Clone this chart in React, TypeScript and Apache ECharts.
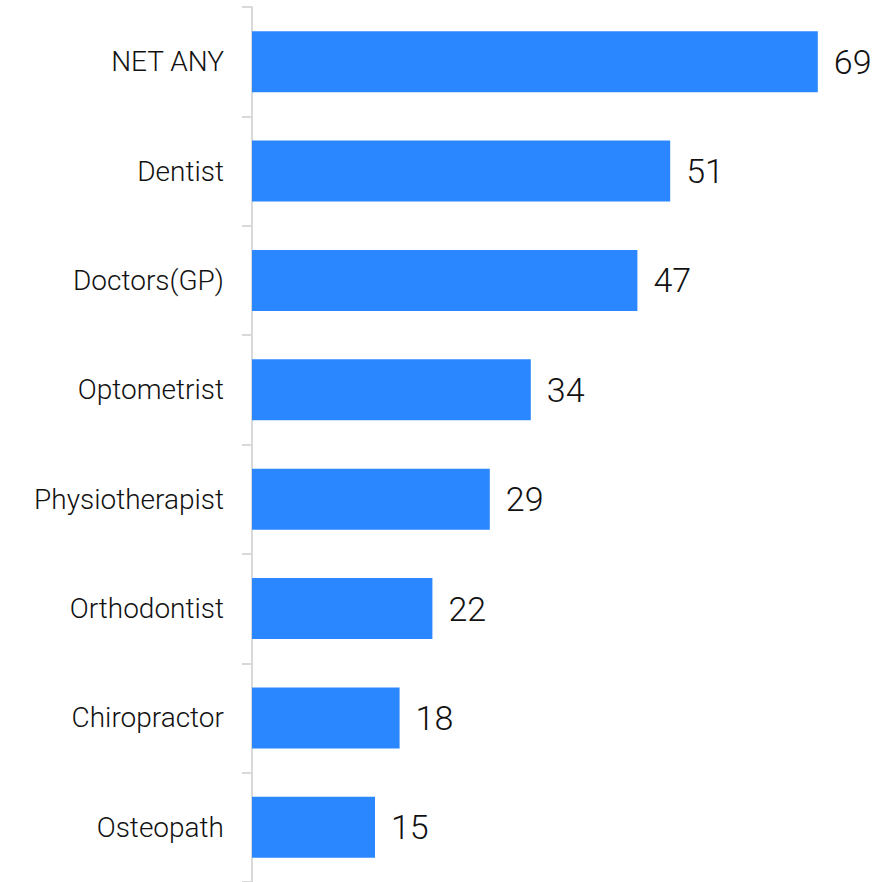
import React, { useEffect, useRef } from "react";
import * as echarts from "echarts";

const categories = ["NET ANY", "Dentist", "Doctors(GP)", "Optometrist", "Physiotherapist", "Orthodontist", "Chiropractor", "Osteopath"];
const values = [69, 51, 47, 34, 29, 22, 18, 15];

export default function App() {
  const ref = useRef<HTMLDivElement>(null);
  useEffect(() => {
    const chart = echarts.init(ref.current!, null, { renderer: "svg" });
    chart.setOption({
      animation: false,
      grid: { left: 252, top: 7, width: 615, height: 879, containLabel: false },
      xAxis: { type: "value", min: 0, max: 75, show: false },
      yAxis: {
        type: "category",
        data: categories,
        inverse: true,
        axisLine: { show: true, lineStyle: { color: "#d9d9d9", width: 2 } },
        axisTick: { show: true, length: 10, lineStyle: { color: "#d9d9d9", width: 2 } },
        axisLabel: { color: "#111", fontSize: 28, fontWeight: 300, fontFamily: "Roboto", margin: 28 },
      },
      series: [
        {
          type: "bar",
          data: values,
          barWidth: 61,
          itemStyle: { color: "#2b87ff" },
          label: { show: true, position: "right", distance: 16, color: "#111", fontSize: 34, fontWeight: 300, fontFamily: "Roboto" },
        },
      ],
    });
    return () => chart.dispose();
  }, []);
  return <div ref={ref} style={{ position: "fixed", left: 0, top: 0, width: 892, height: 882, background: "#fff" }} />;
}
